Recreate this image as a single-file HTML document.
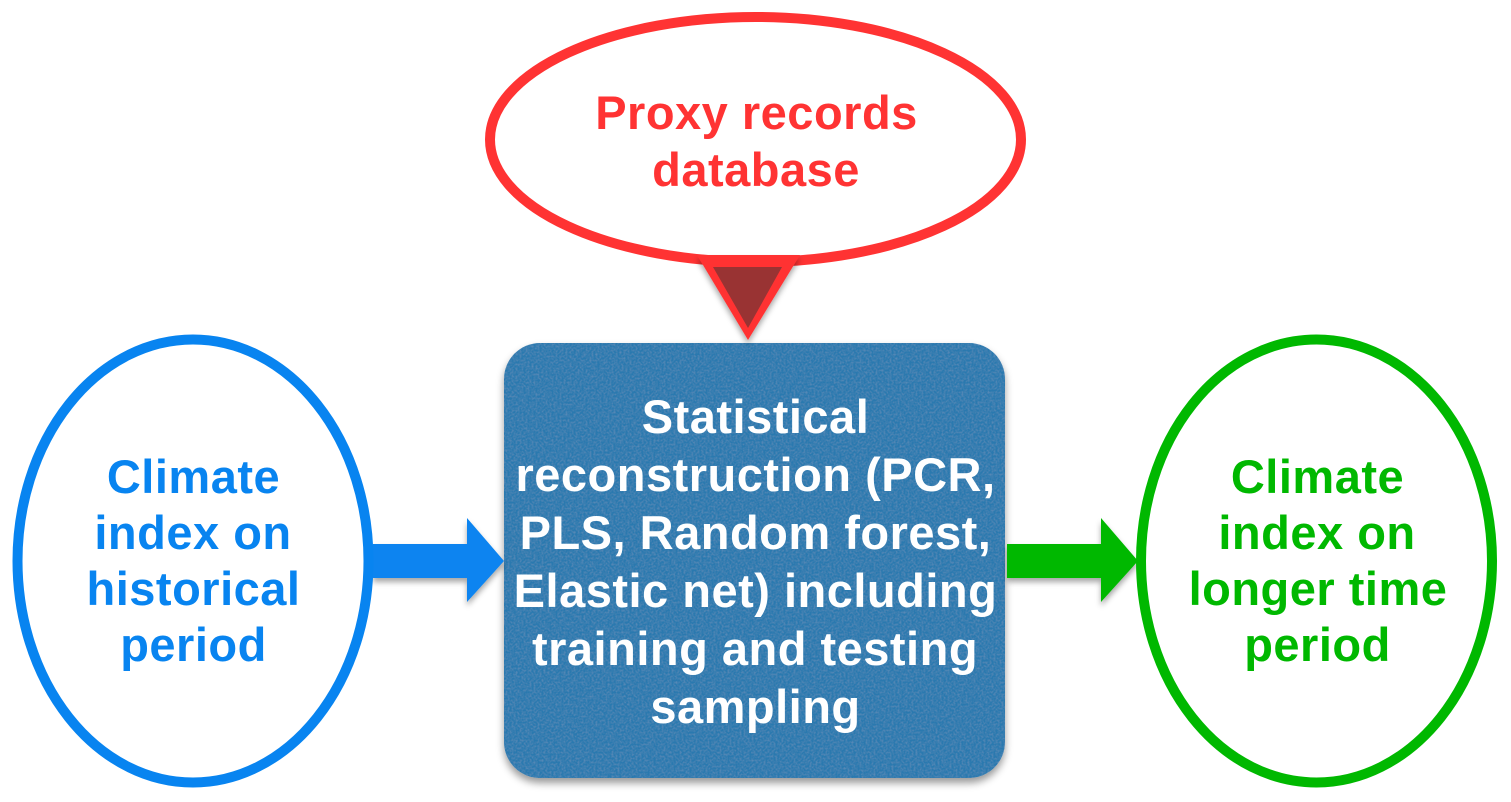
<!DOCTYPE html>
<html><head><meta charset="utf-8"><style>
html,body{margin:0;padding:0;background:#fff;width:1511px;height:802px;overflow:hidden}
svg{display:block}
text{font-family:"Liberation Sans",Arial,sans-serif;font-weight:bold;font-size:47px;text-anchor:middle;letter-spacing:.5px}
</style></head><body>
<svg width="1511" height="802" viewBox="0 0 1511 802" xmlns="http://www.w3.org/2000/svg">
<defs>
<filter id="s" x="-10%" y="-10%" width="120%" height="125%"><feDropShadow dx="0" dy="4" stdDeviation="3" flood-color="#000" flood-opacity=".35"/></filter>
<filter id="tex" x="-5%" y="-5%" width="110%" height="115%">
<feTurbulence type="fractalNoise" baseFrequency=".5" numOctaves="3" seed="4" result="n"/>
<feColorMatrix in="n" type="matrix" values="0 0 0 0 1 0 0 0 0 1 0 0 0 0 1 .16 0 0 0 -.06" result="w"/>
<feComposite in="w" in2="SourceAlpha" operator="in" result="wc"/>
<feDropShadow in="SourceGraphic" dx="0" dy="5" stdDeviation="4" flood-color="#000" flood-opacity=".4" result="sh"/>
<feMerge><feMergeNode in="sh"/><feMergeNode in="wc"/></feMerge>
</filter>
</defs>
<rect x="504" y="343" width="501" height="435" rx="36" fill="#2b79af" filter="url(#tex)"/>
<polygon points="373,544 467,544 467,518 504,561 467,602 467,578 373,578" fill="#0884f0" filter="url(#s)"/>
<polygon points="1007,544 1101,544 1101,518 1138,561 1101,602 1101,578 1007,578" fill="#00b800" filter="url(#s)"/>
<ellipse cx="755.500" cy="139.500" rx="265.500" ry="122.500" fill="none" stroke="#ff3333" stroke-width="10"/>
<polygon points="697,255 800,255 748,340" fill="#ff3333" filter="url(#s)"/>
<polygon points="713,267 782,267 748,328" fill="#993333"/>
<ellipse cx="193" cy="561" rx="175.500" ry="221.500" fill="#fff" stroke="#0884f0" stroke-width="10"/>
<ellipse cx="1316.500" cy="561" rx="175.500" ry="221.500" fill="#fff" stroke="#00b800" stroke-width="10"/>
<g fill="#ff3333"><text x="756.500" y="129">Proxy records</text><text x="756" y="186">database</text></g>
<g fill="#0884f0"><text x="193.500" y="493">Climate</text><text x="193" y="549">index on</text><text x="193.500" y="605">historical</text><text x="193.500" y="661">period</text></g>
<g fill="#00b800"><text x="1317.500" y="493">Climate</text><text x="1317" y="549">index on</text><text x="1318" y="605">longer time</text><text x="1317.500" y="661">period</text></g>
<g fill="#fff"><text x="755.500" y="433">Statistical</text><text x="755.500" y="491">reconstruction (PCR,</text><text x="755.500" y="549">PLS, Random forest,</text><text x="755.500" y="607">Elastic net) including</text><text x="755" y="665">training and testing</text><text x="755.500" y="723">sampling</text></g>
</svg>
</body></html>
